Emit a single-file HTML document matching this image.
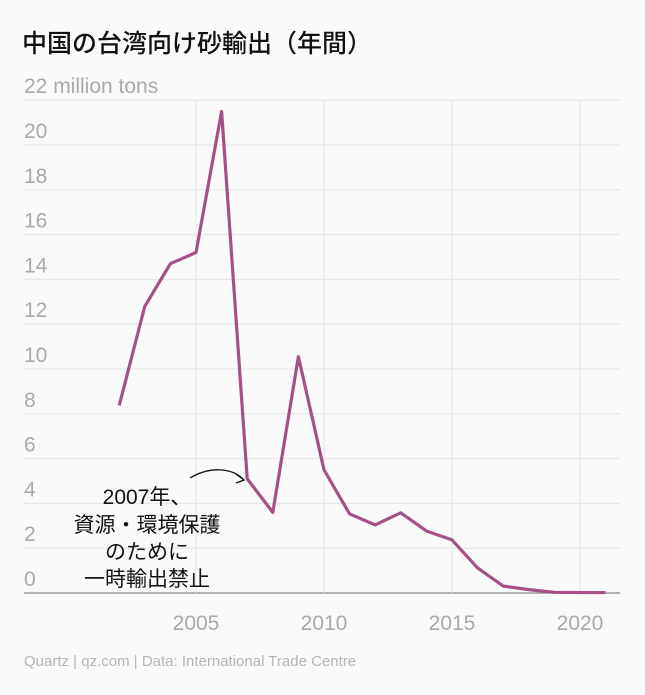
<!DOCTYPE html>
<html><head><meta charset="utf-8"><style>
body{margin:0;background:#fafafa;}
svg{display:block;font-family:"Liberation Sans","Noto Sans CJK JP",sans-serif;}
</style></head><body>
<svg id="c" width="645" height="695">
<rect width="645" height="695" fill="#fafafa"/>
<text x="22" y="52" font-size="25" fill="#111" font-weight="500">中国の台湾向け砂輸出（年間）</text>
<g id="grid"></g><g id="xg"></g><g id="series"></g>
<text x="24" y="666" font-size="15" fill="#b5b5b5">Quartz | qz.com | Data: International Trade Centre</text>
<path d="M190,478 C210,466 232,468 243,479" fill="none" stroke="#111" stroke-width="1.3"/>
<path d="M236,474 L244,480 L236,483" fill="none" stroke="#111" stroke-width="1.3"/>
<g font-size="21" fill="#111" text-anchor="middle">
<text x="147" y="504">2007年、</text><text x="147" y="532">資源・環境保護</text><text x="147" y="559">のために</text><text x="147" y="586">一時輸出禁止</text>
</g>
</svg>
<script>
const years=[2002,2003,2004,2005,2006,2007,2008,2009,2010,2011,2012,2013,2014,2015,2016,2017,2018,2019,2020,2021];
const values=[8.37,12.8,14.7,15.2,21.5,5.1,3.6,10.55,5.5,3.53,3.04,3.58,2.77,2.37,1.12,0.31,0.15,0.03,0.02,0.02];
const yTicks=[0,2,4,6,8,10,12,14,16,18,20,22];
const xTicks=[2005,2010,2015,2020];
const ns="http://www.w3.org/2000/svg";
const X=y=>196+(y-2005)*25.6, Y=v=>593-v*22.4;
function mk(t,a,p){const e=document.createElementNS(ns,t);for(const k in a)e.setAttribute(k,a[k]);p.appendChild(e);return e;}
const g=document.getElementById('grid'),xg=document.getElementById('xg'),s=document.getElementById('series');
yTicks.forEach(v=>{
 const l=mk('line',{x1:24,x2:620,y1:Y(v),y2:Y(v),stroke:v===0?'#999':'#e4e4e4','stroke-width':v===0?1.5:1},g);
 
 
 const t=mk('text',{x:24,y:Y(v)-7,'font-size':21,fill:'#aaa'},g);
 t.textContent=v===22?'22 million tons':v;
 
 
});
xTicks.forEach(y=>{
 const l=mk('line',{x1:X(y),x2:X(y),y1:100,y2:593,stroke:'#e4e4e4'},xg);
 
 
 const t=mk('text',{x:X(y),y:630,'font-size':21,fill:'#aaa','text-anchor':'middle'},xg);
 t.textContent=y;
 
 
});
const p=mk('polyline',{points:years.map((y,i)=>X(y)+','+Y(values[i])).join(' '),fill:'none',stroke:'#a65186','stroke-width':3.2,'stroke-linejoin':'round'},s);


</script>
</body></html>
